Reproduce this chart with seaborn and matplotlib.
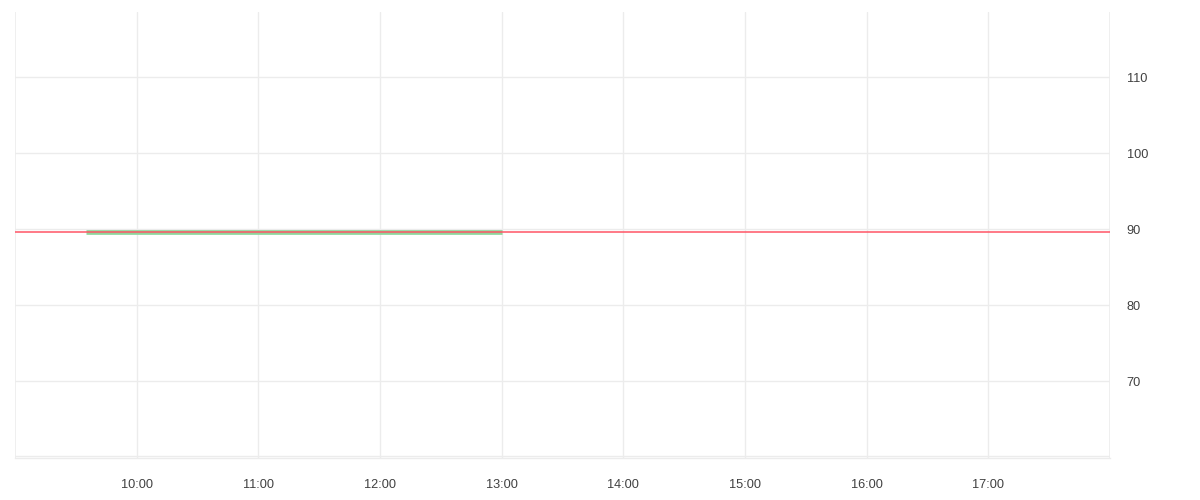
import pandas as pd
import numpy as np
import matplotlib.pyplot as plt
import matplotlib.dates as mdates
import seaborn as sns
import warnings
warnings.filterwarnings('ignore')

# ─────────────────────────────────────────────
# DATA
# ─────────────────────────────────────────────
day = '2024-01-02'
price_times = ['09:35', '10:00', '10:30', '11:00', '11:30', '12:00', '12:30', '13:00']
price_values = [89.6, 89.6, 89.6, 89.6, 89.6, 89.6, 89.6, 89.6]
ref_level = 89.6
x_start, x_end = '09:00', '18:00'
y_ticks = [70, 80, 90, 100, 110]
y_range = [59.9, 118.55]

df = pd.DataFrame({
    'time': pd.to_datetime([f'{day} {t}' for t in price_times]),
    'price': price_values,
})

# ─────────────────────────────────────────────
# PLOT
# ─────────────────────────────────────────────
sns.set_style('white')
plt.rcParams['font.family'] = ['Liberation Sans', 'DejaVu Sans']

fig = plt.figure(figsize=(12, 5), dpi=100)
ax = fig.add_axes([0.0125, 0.084, 0.9125, 0.892])

sns.lineplot(data=df, x='time', y='price', ax=ax, color='#8fd49c',
             linewidth=3.4, solid_capstyle='butt', zorder=3)
ax.axhline(ref_level, color='#ff5566', linewidth=1.1, zorder=4)

ax.set_xlim(pd.Timestamp(f'{day} {x_start}'), pd.Timestamp(f'{day} {x_end}'))
ax.set_ylim(*y_range)

ax.xaxis.set_major_locator(mdates.HourLocator(byhour=range(10, 18)))
ax.xaxis.set_major_formatter(mdates.DateFormatter('%H:%M'))
ax.set_yticks(y_ticks)
ax.yaxis.tick_right()

grid_c = '#ececec'
ax.grid(True, color=grid_c, linewidth=1)
ax.axhline(y_range[0] + 0.25, color=grid_c, linewidth=1, zorder=1)
ax.axvline(pd.Timestamp(f'{day} {x_start}'), color=grid_c, linewidth=1.2, zorder=1)
ax.axvline(pd.Timestamp(f'{day} {x_end}'), color=grid_c, linewidth=1.2, zorder=1)

for s in ['top', 'left', 'right']:
    ax.spines[s].set_visible(False)
ax.spines['bottom'].set_color(grid_c)
ax.spines['bottom'].set_linewidth(1)

ax.tick_params(axis='x', length=6.5, width=1, color=grid_c, pad=8.5,
               labelsize=9.2, labelcolor='#404040')
ax.tick_params(axis='y', length=0, pad=12, labelsize=9.2, labelcolor='#404040')
ax.set_xlabel('')
ax.set_ylabel('')

plt.savefig('out.png', dpi=100)
plt.close()
